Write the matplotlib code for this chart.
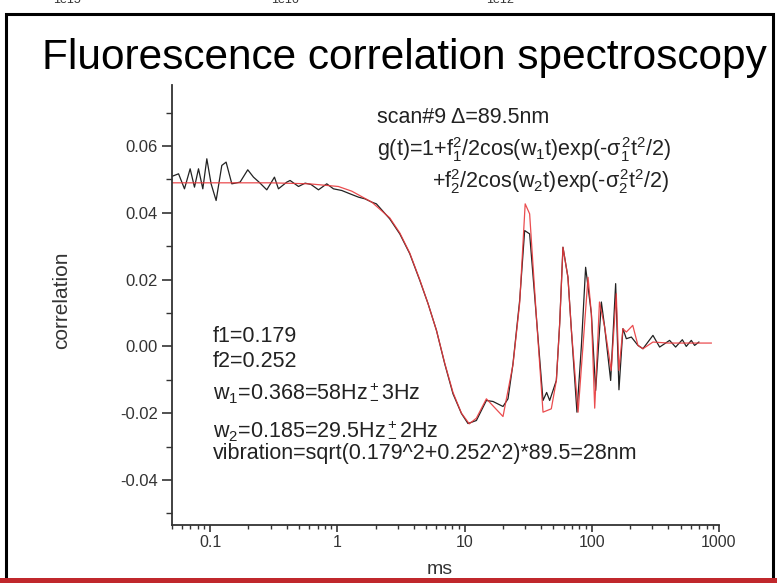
import numpy as np
import matplotlib
matplotlib.use('Agg')
import matplotlib.pyplot as plt
from matplotlib.patches import Rectangle
from matplotlib.ticker import FixedLocator, NullFormatter, LogLocator

plt.rcParams['font.family'] = ['Liberation Sans', 'DejaVu Sans']
plt.rcParams['mathtext.fontset'] = 'custom'
plt.rcParams['mathtext.rm'] = 'Liberation Sans'
plt.rcParams['mathtext.it'] = 'Liberation Sans'
plt.rcParams['mathtext.bf'] = 'Liberation Sans:bold'

# measured correlation (black)
t_data = [0.050, 0.0566, 0.063, 0.0698, 0.0755, 0.0812, 0.0878, 0.0944, 0.102, 0.1117,
          0.1238, 0.1338, 0.1484, 0.1723, 0.198, 0.2196, 0.243, 0.2794, 0.321, 0.345,
          0.401, 0.426, 0.496, 0.559, 0.622, 0.712, 0.827, 0.933, 1.085, 1.26,
          1.47, 1.65, 1.87, 2.03, 2.585, 3.10, 3.71, 4.45, 5.17, 6.02,
          6.99, 8.12, 9.46, 10.65, 12.4, 14.86, 16.75, 20.07, 21.97, 24.04,
          27.14, 29.7, 32.5, 36.7, 41.4, 44.2, 46.7, 52.7, 55.96, 59.4,
          65.0, 69.2, 76.5, 82.8, 89.5, 99.3, 107.3, 119, 126.3, 140.8,
          154.1, 163.6, 175.8, 187, 204.7, 230.7, 252.5, 302.6, 341.6, 409,
          456, 515, 553, 606, 643, 695]
g_data = [0.0509, 0.0517, 0.0472, 0.0532, 0.0477, 0.0532, 0.0472, 0.0562, 0.0487, 0.0437,
          0.0542, 0.0552, 0.0487, 0.0492, 0.0529, 0.0507, 0.0492, 0.0469, 0.0507, 0.0472,
          0.0492, 0.0497, 0.0479, 0.0489, 0.0485, 0.0469, 0.0487, 0.0472, 0.0467, 0.0457,
          0.0447, 0.0442, 0.0432, 0.0427, 0.0382, 0.0337, 0.0278, 0.0198, 0.0128, 0.0048,
          -0.0052, -0.0142, -0.0201, -0.0231, -0.0222, -0.0162, -0.0165, -0.0180, -0.0157, -0.0052,
          0.0138, 0.0347, 0.0337, 0.0088, -0.0162, -0.0138, -0.0162, -0.0102, 0.0068, 0.0297,
          0.0207, 0.0048, -0.0197, -0.0002, 0.0237, 0.0098, -0.0132, 0.0133, 0.0058, -0.0102,
          0.0188, -0.0130, 0.0053, 0.0023, 0.0028, 0.0003, -0.0007, 0.0033, -0.0002, 0.0018,
          -0.0002, 0.0020, 0.0000, 0.0018, 0.0003, 0.0013]

# fit (red)
t_fit = [0.050, 0.1, 0.3, 0.6, 1.02, 1.3, 1.87, 2.585, 3.10, 3.71,
         4.45, 5.17, 6.02, 6.99, 8.12, 9.46, 10.9, 12.4, 14.86, 20.07,
         24.04, 27.14, 29.98, 32.5, 36.7, 41.4, 48.1, 52.7, 56.0, 59.4,
         65.0, 69.2, 78.1, 93.5, 99.3, 105.5, 115, 126.3, 142.2, 155.8,
         163.6, 175.8, 187, 210, 230.7, 252.5, 302.6, 400, 870]
g_fit = [0.0490, 0.0490, 0.0490, 0.0487, 0.0479, 0.0465, 0.0432, 0.0385, 0.0340, 0.0280,
         0.0200, 0.0128, 0.0048, -0.0050, -0.0138, -0.0200, -0.0232, -0.0215, -0.0157, -0.0210,
         -0.0055, 0.0130, 0.0427, 0.0397, 0.0090, -0.0197, -0.0187, -0.0102, 0.0068, 0.0297,
         0.0207, 0.0048, -0.0197, 0.0207, 0.0098, -0.0185, 0.0133, 0.0058, -0.0072, 0.0158,
         -0.0072, 0.0053, 0.0043, 0.0063, 0.0003, -0.0007, 0.0013, 0.0010, 0.0010]

y_major = [-0.04, -0.02, 0.00, 0.02, 0.04, 0.06]
y_minor = [-0.05, -0.03, -0.01, 0.01, 0.03, 0.05, 0.07]
x_major = [0.1, 1, 10, 100, 1000]
x_labels = ['0.1', '1', '10', '100', '1000']

W, H = 777, 583
fig = plt.figure(figsize=(W / 100, H / 100), dpi=100)

def px(x):
    return x / W

def py(y):
    return 1 - y / H

# slide frame and red bar
fig.add_artist(Rectangle((px(6), -0.01), 767 / W, (H - 14) / H + 0.01,
                         transform=fig.transFigure, fill=False, ec='black', lw=2.2))
fig.add_artist(Rectangle((0, 0), 1, 5 / H, transform=fig.transFigure,
                         fc='#c0282c', ec='none'))
# labels cut off at the top edge (from previous slide)
for xx, s in [(67, '1e15'), (285, '1e16'), (500, '1e12')]:
    fig.text(px(xx), py(0), s, ha='center', va='center', fontsize=9, color='#333333')

fig.text(px(42), py(69), 'Fluorescence correlation spectroscopy',
         fontsize=30.5, ha='left', va='baseline')

ax = fig.add_axes([px(171.7), 1 - 525 / H, (719 - 171.7) / W, (525 - 85) / H])
ax.plot(t_data, g_data, color='#222222', lw=0.9)
ax.plot(t_fit, g_fit, color='#e8393c', lw=0.9, alpha=0.9)

ax.set_xscale('log')
ax.set_xlim(0.05, 1000)
ax.set_ylim(-0.0535, 0.0783)

for s in ['top', 'right']:
    ax.spines[s].set_visible(False)
for s in ['left', 'bottom']:
    ax.spines[s].set_linewidth(1.3)
    ax.spines[s].set_color('#333333')

ax.yaxis.set_major_locator(FixedLocator(y_major))
ax.yaxis.set_minor_locator(FixedLocator(y_minor))
ax.set_yticklabels(['%.2f' % v for v in y_major])
ax.xaxis.set_major_locator(FixedLocator(x_major))
ax.set_xticklabels(x_labels)
ax.xaxis.set_minor_locator(LogLocator(base=10, subs=np.arange(2, 10)))
ax.xaxis.set_minor_formatter(NullFormatter())
ax.tick_params(which='major', length=7, width=1.2, color='#333333', labelsize=12,
               labelcolor='#333333', pad=3)
ax.tick_params(which='minor', length=4, width=1.0, color='#333333')
ax.tick_params(axis='x', which='major', length=5, pad=2, labelsize=11.5)
ax.tick_params(axis='x', which='minor', length=3)

fig.text(px(62), py(300), 'correlation', rotation=90, ha='center', va='center',
         fontsize=15, color='#333333')
fig.text(px(440), py(569), 'ms', ha='center', va='center', fontsize=14, color='#333333')

# annotations (pixel positions in figure)
def ftext(x, y, s):
    fig.text(px(x), py(y), s, ha='left', va='baseline', fontsize=15.5, color='#222222')

ftext(377, 123, 'scan#9 \u0394=89.5nm')
ftext(377, 156, r'g(t)=1+f$_1^2$/2cos(w$_1$t)exp(-$\sigma_1^2$t$^2$/2)')
ftext(432, 188, r'+f$_2^2$/2cos(w$_2$t)exp(-$\sigma_2^2$t$^2$/2)')
ftext(213, 342, 'f1=0.179')
ftext(213, 367, 'f2=0.252')
ftext(213, 397, r'w$_1$=0.368=58Hz$^+_-$3Hz')
ftext(213, 435, r'w$_2$=0.185=29.5Hz$^+_-$2Hz')
ftext(213, 459, 'vibration=sqrt(0.179^2+0.252^2)*89.5=28nm')

fig.savefig('out.png', dpi=100)
